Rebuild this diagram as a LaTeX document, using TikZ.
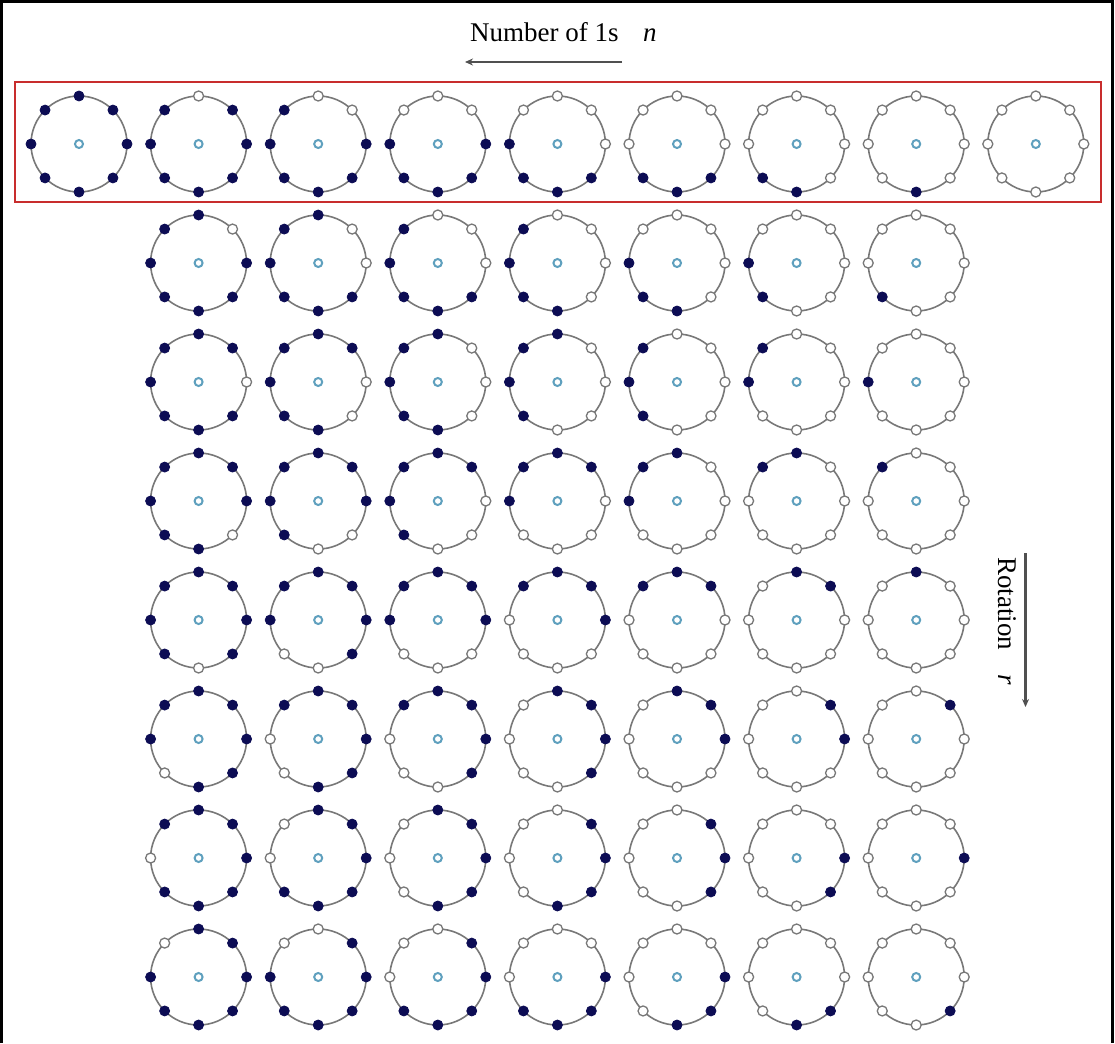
\documentclass[tikz,border=0pt]{standalone}
\usepackage{fontspec}
\setmainfont{Liberation Serif}
\usetikzlibrary{arrows.meta}
\definecolor{navy}{RGB}{12,12,84}
\definecolor{ringgray}{RGB}{120,120,120}
\definecolor{cblue}{RGB}{95,160,190}
\definecolor{boxred}{RGB}{200,45,45}
\definecolor{arrgray}{RGB}{80,80,80}
\tikzset{
  ring/.style={draw=ringgray, line width=1.6pt},
  ondot/.style={circle, fill=navy, draw=navy, line width=0.8pt, inner sep=0pt, minimum size=10pt},
  offdot/.style={circle, fill=white, draw=ringgray, line width=1.3pt, inner sep=0pt, minimum size=10pt},
  ctrdot/.style={circle, fill=white, draw=cblue, line width=2pt, inner sep=0pt, minimum size=8pt},
  lbl/.style={font=\fontsize{27}{30}\selectfont, inner sep=0pt},
  axisarrow/.style={draw=arrgray, line width=2.4pt, -{Stealth[length=8pt,width=7pt]}},
  redbox/.style={draw=boxred, line width=1.6pt},
  frame/.style={draw=black, line width=3pt}
}
% #1 name, #2 cx, #3 cy, #4 number of ones, #5 rotation
\newcommand\lbpcell[5]{%
  \draw[ring] (#2,#3) circle[radius=48];
  \node[ctrdot] (#1-c) at (#2,#3) {};
  \pgfmathtruncatemacro\lbps{4-floor((#4-1)/2)}%
  \pgfmathtruncatemacro\lbpe{\lbps+#4-1}%
  \foreach \i in {0,...,7}{%
    \pgfmathtruncatemacro\lbpj{mod(\i-#5+16,8)}%
    \pgfmathtruncatemacro\lbpf{(#4==8)||((\lbpj>=\lbps)&&(\lbpj<=\lbpe))}%
    \ifnum\lbpf=1
      \node[ondot] (#1-\i) at ({#2+48*sin(45*\i)},{#3-48*cos(45*\i)}) {};
    \else
      \node[offdot] (#1-\i) at ({#2+48*sin(45*\i)},{#3-48*cos(45*\i)}) {};
    \fi
  }%
}
\begin{document}
\begin{tikzpicture}[x=1pt,y=-1pt]
\useasboundingbox (0,0) rectangle (1115,1043);
\fill[white] (0,0) rectangle (1115,1043);
\draw[frame] (1.5,1043) -- (1.5,1.5) -- (1112.5,1.5) -- (1112.5,1043);
% labels
\node[lbl, anchor=base west] (ntext) at (470,42) {Number of 1s};
\node[lbl, anchor=base west] (nsym) at (643,42) {\textit{n}};
\coordinate (na) at (622,62);
\coordinate (nb) at (465,62);
\draw[axisarrow] (na) -- (nb);
\node[lbl, anchor=base west, rotate=-90] (rtext) at (998,557) {Rotation};
\node[lbl, anchor=base west, rotate=-90] (rsym) at (998,674) {\textit{r}};
\coordinate (ra) at (1025.5,553);
\coordinate (rb) at (1025.5,707);
\draw[axisarrow] (ra) -- (rb);
% red box
\draw[redbox] (15,82) rectangle (1101,202);
% top row
\foreach \k in {0,...,8}{
  \pgfmathsetmacro\cx{79+119.6*\k}
  \pgfmathtruncatemacro\nn{8-\k}
  \lbpcell{t\k}{\cx}{144}{\nn}{0}
}
% rotated rows
\foreach \m in {1,...,7}{
  \foreach \k in {1,...,7}{
    \pgfmathsetmacro\cx{79+119.6*\k}
    \pgfmathsetmacro\cy{144+119*\m}
    \pgfmathtruncatemacro\nn{8-\k}
    \lbpcell{r\m c\k}{\cx}{\cy}{\nn}{\m}
  }
}
\end{tikzpicture}
\end{document}
